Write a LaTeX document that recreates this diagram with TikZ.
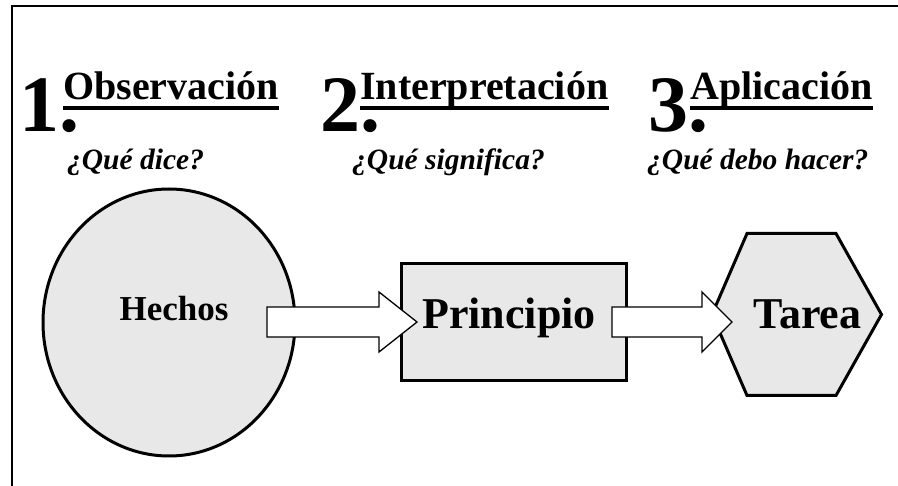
\documentclass[tikz,border=0pt]{standalone}
\usepackage{fontspec}
\setmainfont{Liberation Serif}
\usetikzlibrary{calc,shapes.geometric}
\definecolor{shapegray}{HTML}{E8E8E8}
\tikzset{
 num/.style={inner sep=0pt, anchor=base west, font=\fontsize{80}{90}\selectfont\bfseries},
 ttl/.style={inner sep=0pt, anchor=base west, font=\fontsize{40}{48}\selectfont\bfseries},
 qst/.style={inner sep=0pt, anchor=base west, font=\fontsize{29.5}{35}\selectfont\bfseries\itshape},
 uline/.style={line width=4pt},
 shapebox/.style={draw, fill=shapegray, line width=3pt},
 blockarrow/.style={draw, fill=white, line width=1.3pt, line join=miter},
 biglbl/.style={inner sep=0pt, anchor=base, font=\fontsize{44}{52}\selectfont\bfseries},
 smalllbl/.style={inner sep=0pt, anchor=base, font=\fontsize{35}{42}\selectfont\bfseries},
}
\begin{document}
\begin{tikzpicture}[x=1pt,y=-1pt]
\useasboundingbox (0,0) rectangle (898,486);
% frame
\draw[line width=2.5pt] (12,492) -- (12,6) -- (904,6);
% shapes
\node[shapebox, ellipse, inner sep=0pt, minimum width=252pt, minimum height=267pt] (circ) at (169,322.5) {};
\node[shapebox, rectangle, inner sep=0pt, minimum width=225pt, minimum height=117pt] (rect) at (514,322) {};
\draw[shapebox, line join=miter] (747,233.5) -- (836,233.5) -- (881.5,314.5) -- (836,395.5) -- (747,395.5) -- (712,314.5) -- cycle;
\coordinate (hexc) at (797,314.5);
% block arrows
\coordinate (a1s) at (267,322);
\coordinate (a1e) at (417,322);
\coordinate (a2s) at (612,322);
\coordinate (a2e) at (732,322);
\draw[blockarrow] ($(a1s)+(0,-15)$) -- ($(a1e)+(-38,-15)$) -- ($(a1e)+(-38,-30)$) -- (a1e) -- ($(a1e)+(-38,30)$) -- ($(a1e)+(-38,15)$) -- ($(a1s)+(0,15)$) -- cycle;
\draw[blockarrow] ($(a2s)+(0,-15)$) -- ($(a2e)+(-30,-15)$) -- ($(a2e)+(-30,-30)$) -- (a2e) -- ($(a2e)+(-30,30)$) -- ($(a2e)+(-30,15)$) -- ($(a2s)+(0,15)$) -- cycle;
% labels
\node[smalllbl] (hechos) at (174,321) {Hechos};
\node[biglbl] (principio) at (509,329) {Principio};
\node[biglbl] (tarea) at (807.5,329) {Tarea};
% headers
\node[num] (n1) at (19,132) {1.};
\node[num] (n2) at (320,132) {2.};
\node[num] (n3) at (648,132) {3.};
\node[ttl] (t1) at (63,100) {Observación};
\node[ttl] (t2) at (360,100) {Interpretación};
\node[ttl] (t3) at (690,100) {Aplicación};
\foreach \t in {t1,t2,t3}{
  \draw[uline] ([yshift=-8pt]\t.base west) -- ([yshift=-8pt]\t.base east);
}
\node[qst] (q1) at (67,170) {¿Qué dice?};
\node[qst] (q2) at (352,170) {¿Qué significa?};
\node[qst] (q3) at (647,170) {¿Qué debo hacer?};
\end{tikzpicture}
\end{document}
